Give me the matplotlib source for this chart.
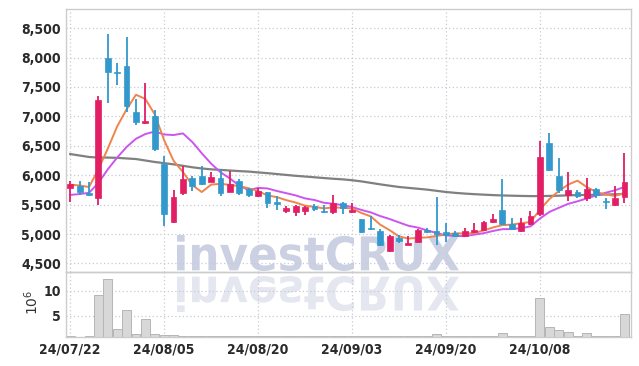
import matplotlib
matplotlib.use("Agg")
import matplotlib.pyplot as plt
from matplotlib.patches import PathPatch
from matplotlib.textpath import TextPath
from matplotlib.font_manager import FontProperties
from matplotlib.transforms import Affine2D, IdentityTransform
from matplotlib.ticker import FuncFormatter

# --- data (KRW, volume in millions) ---
dates = [
    "24/07/22", "24/07/23", "24/07/24", "24/07/25", "24/07/26", "24/07/29", "24/07/30", "24/07/31", "24/08/01", "24/08/02",
    "24/08/05", "24/08/06", "24/08/07", "24/08/08", "24/08/09", "24/08/12", "24/08/13", "24/08/14", "24/08/16", "24/08/19",
    "24/08/20", "24/08/21", "24/08/22", "24/08/23", "24/08/26", "24/08/27", "24/08/28", "24/08/29", "24/08/30", "24/09/02",
    "24/09/03", "24/09/04", "24/09/05", "24/09/06", "24/09/09", "24/09/10", "24/09/11", "24/09/12", "24/09/13", "24/09/19",
    "24/09/20", "24/09/23", "24/09/24", "24/09/25", "24/09/26", "24/09/27", "24/09/30", "24/10/02", "24/10/04", "24/10/07",
    "24/10/08", "24/10/10", "24/10/11", "24/10/14", "24/10/15", "24/10/16", "24/10/17", "24/10/18", "24/10/21", "24/10/22",
]
opens = [
    5780, 5820, 5700, 5610, 8000, 7750, 7850, 7080, 6880, 7000,
    6190, 5210, 5700, 5960, 5990, 5890, 5950, 5720, 5900, 5760,
    5640, 5710, 5550, 5390, 5380, 5390, 5470, 5390, 5370, 5530,
    5370, 5260, 5100, 5050, 4710, 4940, 4815, 4860, 5070, 5050,
    5040, 5010, 4960, 5030, 5070, 5210, 5410, 5170, 5060, 5170,
    5340, 6550, 5990, 5670, 5710, 5610, 5760, 5560, 5490, 5630,
]
highs = [
    5910, 5900, 5890, 7350, 8400, 7900, 8350, 7300, 7560, 7100,
    6330, 5750, 6150, 5980, 6150, 6050, 6100, 6080, 5930, 5780,
    5780, 5720, 5640, 5470, 5500, 5470, 5510, 5500, 5660, 5540,
    5520, 5260, 5300, 5080, 4990, 4990, 4970, 5080, 5100, 5630,
    5190, 5050, 5110, 5190, 5230, 5340, 5930, 5270, 5270, 5390,
    6590, 6710, 6290, 6060, 5750, 5950, 5780, 5610, 5810, 6370,
]
lows = [
    5550, 5670, 5650, 5500, 7220, 7530, 7070, 6850, 6870, 6410,
    5130, 5190, 5670, 5740, 5830, 5880, 5640, 5710, 5670, 5630,
    5630, 5440, 5410, 5350, 5310, 5330, 5390, 5360, 5340, 5340,
    5350, 5020, 5070, 4800, 4700, 4840, 4810, 4840, 5010, 4820,
    4870, 4950, 4950, 5010, 5060, 5180, 5150, 5070, 5040, 5160,
    5300, 6070, 5700, 5560, 5610, 5570, 5610, 5420, 5470, 5520,
]
closes = [
    5850, 5720, 5660, 7280, 7750, 7740, 7170, 6900, 6920, 6440,
    5340, 5630, 5940, 5810, 5850, 5970, 5700, 5850, 5700, 5670,
    5730, 5530, 5510, 5440, 5470, 5460, 5430, 5380, 5520, 5440,
    5410, 5040, 5090, 4820, 4970, 4880, 4855, 5070, 5040, 5000,
    4990, 4970, 5050, 5070, 5210, 5260, 5170, 5090, 5190, 5310,
    6310, 6090, 5750, 5750, 5640, 5760, 5670, 5550, 5610, 5880,
]
ma5 = [
    5840, 5825, 5800, 6100, 6452, 6830, 7120, 7368, 7296, 7034,
    6594, 6246, 6054, 5832, 5714, 5840, 5854, 5836, 5814, 5778,
    5730, 5656, 5628, 5576, 5536, 5482, 5462, 5436, 5452, 5446,
    5436, 5358, 5300, 5160, 5066, 4960, 4923, 4937, 4943, 4969,
    4991, 5014, 5010, 5016, 5060, 5112, 5152, 5160, 5184, 5204,
    5414, 5592, 5730, 5840, 5908, 5798, 5714, 5674, 5646, 5702,
]
ma10 = [
    5665, 5680, 5700, 5870, 6100, 6300, 6480, 6620, 6700, 6743,
    6692, 6683, 6711, 6564, 6374, 6197, 6050, 5945, 5823, 5746,
    5785, 5775, 5732, 5695, 5657, 5606, 5579, 5532, 5514, 5491,
    5459, 5410, 5368, 5306, 5256, 5198, 5141, 5110, 5062, 5018,
    4976, 4969, 4965, 4990, 5014, 5052, 5083, 5085, 5100, 5131,
    5263, 5375, 5445, 5513, 5556, 5606, 5656, 5702, 5744, 5801,
]
ma_long = [
    6360, 6335, 6310, 6300, 6300, 6295, 6285, 6275, 6250, 6225,
    6205, 6185, 6160, 6135, 6115, 6100, 6090, 6080, 6070, 6062,
    6048, 6035, 6020, 6005, 5990, 5978, 5965, 5952, 5940, 5930,
    5915, 5895, 5870, 5845, 5822, 5800, 5785, 5770, 5755, 5735,
    5715, 5700, 5688, 5678, 5670, 5662, 5656, 5652, 5648, 5645,
    5645, 5648, 5652, 5658, 5662, 5665, 5668, 5672, 5676, 5680,
]
volume = [
    1.0, 0.8, 0.85, 9.1, 12.5, 2.3, 6.1, 1.35, 4.3, 1.35,
    1.15, 1.15, 0.95, 0.85, 0.95, 0.85, 0.85, 0.85, 0.85, 0.85,
    0.85, 0.85, 0.85, 0.85, 0.85, 0.85, 0.85, 0.85, 0.95, 0.85,
    0.85, 0.85, 0.85, 0.85, 0.85, 0.85, 0.85, 0.85, 0.85, 1.3,
    0.95, 0.85, 0.85, 0.85, 0.85, 0.85, 1.5, 0.85, 0.85, 0.85,
    8.5, 2.7, 2.1, 1.8, 0.95, 1.5, 0.95, 0.95, 0.95, 5.3,
]
tick_idx = [0, 10, 20, 30, 40, 50]
price_ticks = [4500, 5000, 5500, 6000, 6500, 7000, 7500, 8000, 8500]
vol_ticks = [5, 10]

UP, DOWN = "#e21e64", "#3399cc"
GRID = "#c8cad6"
LABEL_FONT = FontProperties(family="DejaVu Sans", stretch="condensed", weight="bold", size=10)

W, H = 639, 366
fig = plt.figure(figsize=(W / 100, H / 100), dpi=100)
fig.patch.set_facecolor("white")


def fig_box(l, t, r, b):
    return [l / W, 1 - b / H, (r - l) / W, (b - t) / H]


ax = fig.add_axes(fig_box(66, 9.3, 631, 272.3))
axv = fig.add_axes(fig_box(66, 272.3, 631, 336.7), sharex=ax)
for a in (ax, axv):
    a.set_facecolor("none")
    for s in a.spines.values():
        s.set_color("#cccccc")
        s.set_linewidth(1.0)
    a.tick_params(length=0, colors="#2a2a2a")

x = list(range(len(closes)))


# --- watermark with its reflection, drawn behind the axes ---
def watermark(x0, y0, x1, y1, color, flip=False):
    tp = TextPath((0, 0), "investCRUX", size=100,
                  prop=FontProperties(family="DejaVu Sans", weight="bold"))
    ext = tp.get_extents()
    tr = Affine2D().translate(-ext.x0, -ext.y0).scale((x1 - x0) / ext.width, (y1 - y0) / ext.height)
    if flip:
        tr = tr + Affine2D().scale(1, -1).translate(0, y1 - y0)
    tr = tr + Affine2D().translate(x0, y0)
    fig.add_artist(PathPatch(tr.transform_path(tp), transform=IdentityTransform(),
                             fc=color, ec="none", zorder=-1))


watermark(177, H - 271, 459, H - 235, "#cbd1e3")
watermark(177, H - 312, 459, H - 276, "#e4e7f0", flip=True)

# --- price panel ---
ax.plot(x, ma_long, color="#808080", lw=1.6, zorder=2)
ax.plot(x, ma10, color="#cc55ee", lw=1.4, zorder=3)
ax.plot(x, ma5, color="#f0844c", lw=1.4, zorder=3)

colors = [UP if c >= o else DOWN for o, c in zip(opens, closes)]
ax.vlines(x, lows, highs, colors=colors, lw=1.3, zorder=4)
bottoms = [min(o, c) for o, c in zip(opens, closes)]
heights = [max(abs(c - o), 18) for o, c in zip(opens, closes)]
ax.bar(x, heights, bottom=bottoms, width=0.62, color=colors, edgecolor=colors, lw=0.5, zorder=5)

ax.set_ylim(4350, 8820)
ax.set_yticks(price_ticks)
ax.yaxis.set_major_formatter(FuncFormatter(lambda v, p: f"{int(v):,}"))
ax.set_xlim(-0.45, 59.7)
ax.set_xticks(tick_idx)
ax.tick_params(axis="x", labelbottom=False)
ax.grid(True, color=GRID, ls=(0, (1, 2)), lw=0.9, zorder=1)

# --- volume panel ---
axv.bar(x, volume, width=0.95, color="#d8d8d8", edgecolor="#b5b5b5", lw=0.7, zorder=2)
axv.set_ylim(0.8, 13.75)
axv.set_yticks(vol_ticks)
axv.set_xticks(tick_idx)
axv.set_xticklabels([dates[i] for i in tick_idx])
axv.grid(True, color=GRID, ls=(0, (1, 2)), lw=0.9, zorder=1)
axv.tick_params(axis="x", pad=4)

for lab in ax.get_yticklabels() + axv.get_yticklabels() + axv.get_xticklabels():
    lab.set_fontproperties(LABEL_FONT)

fig.text(32 / W, 1 - 302 / H, r"$10^6$", rotation=90, ha="center", va="center",
         fontsize=10, color="#333333")

fig.savefig("out.png", dpi=100)
